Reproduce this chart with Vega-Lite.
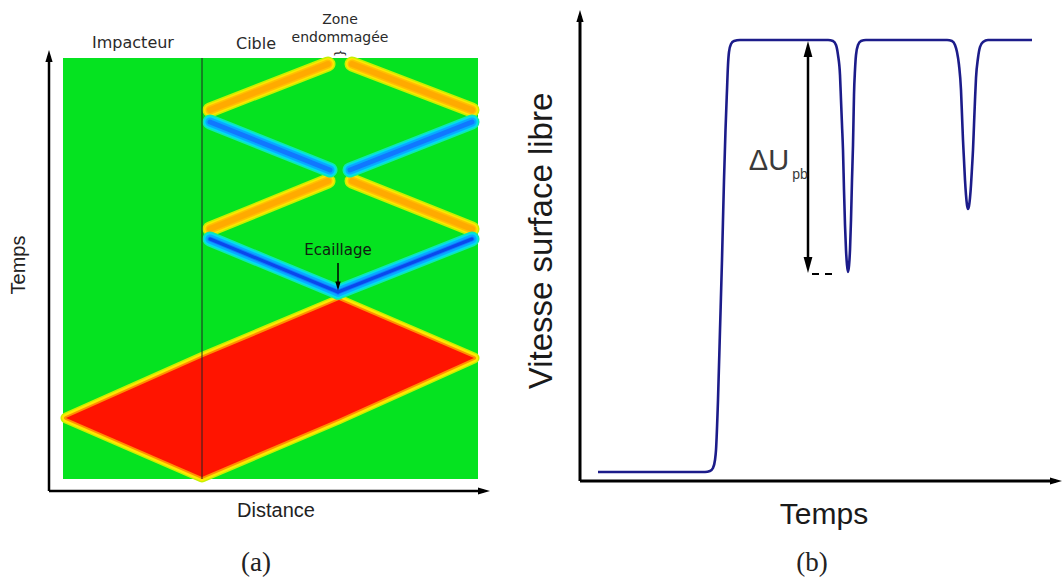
{
  "$schema": "https://vega.github.io/schema/vega-lite/v6.json",
  "padding": 0,
  "spacing": 0,
  "background": "white",
  "config": {"view": {"stroke": null}},
  "datasets": {
    "a_bg": [{"x": 0, "x2": 415, "y": 0, "y2": 421}],
    "a_red": [
      {"x": 3, "y": 61, "y2": 61},
      {"x": 139, "y": 2, "y2": 121.4},
      {"x": 276, "y": 60.3, "y2": 179},
      {"x": 411, "y": 121, "y2": 121}
    ],
    "a_orange": [
      {"x": 147, "y": 369, "x2": 265, "y2": 415},
      {"x": 289, "y": 415, "x2": 409, "y2": 369},
      {"x": 147, "y": 250, "x2": 265, "y2": 298},
      {"x": 289, "y": 298, "x2": 409, "y2": 250}
    ],
    "a_blue": [
      {"x": 147, "y": 357, "x2": 267, "y2": 309},
      {"x": 287, "y": 309, "x2": 409, "y2": 357},
      {"x": 147, "y": 240, "x2": 275, "y2": 187},
      {"x": 275, "y": 187, "x2": 409, "y2": 240}
    ],
    "a_blue_low": [
      {"x": 147, "y": 240, "x2": 275, "y2": 187},
      {"x": 275, "y": 187, "x2": 409, "y2": 240}
    ],
    "a_line": [{"x": 139, "x2": 139, "y": 0, "y2": 421}],
    "a_axes": [
      {"x": -14, "x2": -14, "y": -12, "y2": 423},
      {"x": -14, "x2": 421, "y": -12, "y2": -12}
    ],
    "b_line": [
      {"x": 18, "y": 9}, {"x": 125, "y": 9}, {"x": 130, "y": 10}, {"x": 133, "y": 13},
      {"x": 135, "y": 21}, {"x": 136, "y": 31}, {"x": 138, "y": 81}, {"x": 140, "y": 151},
      {"x": 142, "y": 221}, {"x": 144, "y": 301}, {"x": 145.5, "y": 351}, {"x": 147, "y": 391},
      {"x": 148, "y": 416}, {"x": 149, "y": 429}, {"x": 151, "y": 437}, {"x": 154, "y": 440},
      {"x": 160, "y": 441}, {"x": 248, "y": 441},
      {"x": 253, "y": 440}, {"x": 256, "y": 436}, {"x": 258, "y": 426}, {"x": 260, "y": 406},
      {"x": 261, "y": 381}, {"x": 262, "y": 356}, {"x": 263, "y": 331}, {"x": 264, "y": 291},
      {"x": 265, "y": 256}, {"x": 266, "y": 231}, {"x": 267, "y": 216}, {"x": 268, "y": 209},
      {"x": 269, "y": 215}, {"x": 270, "y": 231}, {"x": 271, "y": 261}, {"x": 272, "y": 301},
      {"x": 273, "y": 336}, {"x": 273.5, "y": 361}, {"x": 274, "y": 386}, {"x": 275, "y": 411},
      {"x": 276, "y": 426}, {"x": 278, "y": 436}, {"x": 281, "y": 440}, {"x": 286, "y": 441},
      {"x": 367, "y": 441},
      {"x": 372, "y": 440}, {"x": 375, "y": 436}, {"x": 377, "y": 429}, {"x": 379, "y": 416},
      {"x": 381, "y": 391}, {"x": 382, "y": 366}, {"x": 383, "y": 341}, {"x": 384, "y": 321},
      {"x": 385, "y": 301}, {"x": 386, "y": 286}, {"x": 387, "y": 276}, {"x": 388, "y": 272},
      {"x": 389, "y": 275}, {"x": 390, "y": 283}, {"x": 391, "y": 296}, {"x": 392, "y": 313},
      {"x": 393, "y": 331}, {"x": 394, "y": 356}, {"x": 395, "y": 381}, {"x": 396, "y": 403},
      {"x": 398, "y": 423}, {"x": 400, "y": 434}, {"x": 403, "y": 439}, {"x": 408, "y": 441},
      {"x": 452, "y": 441}
    ],
    "b_axes": [
      {"x": 0, "x2": 0, "y": 0, "y2": 465},
      {"x": 0, "x2": 476, "y": 0, "y2": 0}
    ]
  },
  "hconcat": [
    {
      "width": 510,
      "height": 580,
      "encoding": {
        "x": {"field": "x", "type": "quantitative", "scale": {"domain": [-63, 447], "nice": false, "zero": false}, "axis": null},
        "y": {"field": "y", "type": "quantitative", "scale": {"domain": [-101, 479], "nice": false, "zero": false}, "axis": null}
      },
      "layer": [
        {"data": {"name": "a_bg"}, "mark": {"type": "rect", "fill": "#05e320"}, "encoding": {"x2": {"field": "x2"}, "y2": {"field": "y2"}}},
        {"data": {"name": "a_red"}, "mark": {"type": "area", "fill": "#ff1400", "stroke": "#c8f000", "strokeWidth": 11, "strokeJoin": "round"}, "encoding": {"y2": {"field": "y2"}}},
        {"data": {"name": "a_red"}, "mark": {"type": "area", "fill": "#ff1400", "stroke": "#ffe800", "strokeWidth": 8, "strokeJoin": "round"}, "encoding": {"y2": {"field": "y2"}}},
        {"data": {"name": "a_red"}, "mark": {"type": "area", "fill": "#ff1400", "stroke": "#ff9000", "strokeWidth": 4, "strokeJoin": "round"}, "encoding": {"y2": {"field": "y2"}}},
        {"data": {"name": "a_red"}, "mark": {"type": "area", "fill": "#ff1400", "strokeWidth": 0}, "encoding": {"y2": {"field": "y2"}}},
        {"data": {"name": "a_orange"}, "mark": {"type": "rule", "color": "#c8f000", "strokeWidth": 15, "strokeCap": "round"}, "encoding": {"x2": {"field": "x2"}, "y2": {"field": "y2"}}},
        {"data": {"name": "a_orange"}, "mark": {"type": "rule", "color": "#ffe600", "strokeWidth": 12, "strokeCap": "round"}, "encoding": {"x2": {"field": "x2"}, "y2": {"field": "y2"}}},
        {"data": {"name": "a_orange"}, "mark": {"type": "rule", "color": "#ffc000", "strokeWidth": 9, "strokeCap": "round"}, "encoding": {"x2": {"field": "x2"}, "y2": {"field": "y2"}}},
        {"data": {"name": "a_orange"}, "mark": {"type": "rule", "color": "#ffaa00", "strokeWidth": 6, "strokeCap": "round"}, "encoding": {"x2": {"field": "x2"}, "y2": {"field": "y2"}}},
        {"data": {"name": "a_blue"}, "mark": {"type": "rule", "color": "#10e8b0", "strokeWidth": 15, "strokeCap": "round"}, "encoding": {"x2": {"field": "x2"}, "y2": {"field": "y2"}}},
        {"data": {"name": "a_blue"}, "mark": {"type": "rule", "color": "#00dcf4", "strokeWidth": 12, "strokeCap": "round"}, "encoding": {"x2": {"field": "x2"}, "y2": {"field": "y2"}}},
        {"data": {"name": "a_blue"}, "mark": {"type": "rule", "color": "#08aaff", "strokeWidth": 9, "strokeCap": "round"}, "encoding": {"x2": {"field": "x2"}, "y2": {"field": "y2"}}},
        {"data": {"name": "a_blue"}, "mark": {"type": "rule", "color": "#1078ff", "strokeWidth": 5, "strokeCap": "round"}, "encoding": {"x2": {"field": "x2"}, "y2": {"field": "y2"}}},
        {"data": {"name": "a_blue_low"}, "mark": {"type": "rule", "color": "#0a48ec", "strokeWidth": 3, "strokeCap": "round"}, "encoding": {"x2": {"field": "x2"}, "y2": {"field": "y2"}}},
        {"data": {"name": "a_line"}, "mark": {"type": "rule", "color": "#222222", "strokeWidth": 1}, "encoding": {"x2": {"field": "x2"}, "y2": {"field": "y2"}}},
        {"data": {"name": "a_axes"}, "mark": {"type": "rule", "color": "black", "strokeWidth": 2.5}, "encoding": {"x2": {"field": "x2"}, "y2": {"field": "y2"}}},
        {"data": {"values": [{"x": -14, "y": 423}]}, "mark": {"type": "point", "shape": "M0,-1L0.6,1L-0.6,1Z", "filled": true, "color": "black", "opacity": 1, "size": 144}},
        {"data": {"values": [{"x": 421, "y": -12}]}, "mark": {"type": "point", "shape": "M1,0L-1,-0.6L-1,0.6Z", "filled": true, "color": "black", "opacity": 1, "size": 144}},
        {"data": {"values": [{"x": 275, "x2": 275, "y": 216, "y2": 195}]}, "mark": {"type": "rule", "color": "black", "strokeWidth": 1.5}, "encoding": {"x2": {"field": "x2"}, "y2": {"field": "y2"}}},
        {"data": {"values": [{"x": 275, "y": 193}]}, "mark": {"type": "point", "shape": "M0,1L0.6,-1L-0.6,-1Z", "filled": true, "color": "black", "opacity": 1, "size": 80}},
        {"data": {"values": [{"x": 70, "y": 436, "label": "Impacteur"}, {"x": 193, "y": 435, "label": "Cible"}]}, "mark": {"type": "text", "font": "DejaVu Sans", "fontSize": 16, "color": "#2a2a2a", "align": "center", "baseline": "middle"}, "encoding": {"text": {"field": "label"}}},
        {"data": {"values": [{"x": 277, "y": 459, "label": "Zone"}, {"x": 277, "y": 441, "label": "endommagée"}]}, "mark": {"type": "text", "font": "DejaVu Sans", "fontSize": 14, "color": "#2a2a2a", "align": "center", "baseline": "middle"}, "encoding": {"text": {"field": "label"}}},
        {"data": {"values": [{"x": 277, "y": 426, "label": "{"}]}, "mark": {"type": "text", "font": "DejaVu Sans", "fontSize": 12, "color": "#2a2a2a", "align": "center", "baseline": "middle", "angle": 90}, "encoding": {"text": {"field": "label"}}},
        {"data": {"values": [{"x": 275, "y": 229, "label": "Ecaillage"}]}, "mark": {"type": "text", "font": "DejaVu Sans", "fontSize": 15, "color": "#102010", "align": "center", "baseline": "middle"}, "encoding": {"text": {"field": "label"}}},
        {"data": {"values": [{"x": -38, "y": 214, "label": "Temps"}]}, "mark": {"type": "text", "font": "Liberation Sans", "fontSize": 20, "color": "#222222", "align": "center", "baseline": "alphabetic", "angle": 270}, "encoding": {"text": {"field": "label"}}},
        {"data": {"values": [{"x": 213, "y": -38, "label": "Distance"}]}, "mark": {"type": "text", "font": "Liberation Sans", "fontSize": 20, "color": "#222222", "align": "center", "baseline": "alphabetic"}, "encoding": {"text": {"field": "label"}}},
        {"data": {"values": [{"x": 193, "y": -84, "label": "(a)"}]}, "mark": {"type": "text", "font": "Liberation Serif", "fontSize": 27, "color": "#222222", "align": "center", "baseline": "middle"}, "encoding": {"text": {"field": "label"}}}
      ]
    },
    {
      "width": 554,
      "height": 580,
      "encoding": {
        "x": {"field": "x", "type": "quantitative", "scale": {"domain": [-70, 484], "nice": false, "zero": false}, "axis": null},
        "y": {"field": "y", "type": "quantitative", "scale": {"domain": [-99, 481], "nice": false, "zero": false}, "axis": null}
      },
      "layer": [
        {"data": {"name": "b_axes"}, "mark": {"type": "rule", "color": "black", "strokeWidth": 3}, "encoding": {"x2": {"field": "x2"}, "y2": {"field": "y2"}}},
        {"data": {"values": [{"x": 0, "y": 465}]}, "mark": {"type": "point", "shape": "M0,-1L0.6,1L-0.6,1Z", "filled": true, "color": "black", "opacity": 1, "size": 144}},
        {"data": {"values": [{"x": 476, "y": 0}]}, "mark": {"type": "point", "shape": "M1,0L-1,-0.6L-1,0.6Z", "filled": true, "color": "black", "opacity": 1, "size": 144}},
        {"data": {"name": "b_line"}, "mark": {"type": "line", "interpolate": "monotone", "color": "#1c1c8a", "strokeWidth": 2.6}},
        {"data": {"values": [{"x": 228, "x2": 228, "y": 216, "y2": 432}]}, "mark": {"type": "rule", "color": "black", "strokeWidth": 2.5}, "encoding": {"x2": {"field": "x2"}, "y2": {"field": "y2"}}},
        {"data": {"values": [{"x": 228, "y": 432}]}, "mark": {"type": "point", "shape": "M0,-1L0.55,1L-0.55,1Z", "filled": true, "color": "black", "opacity": 1, "size": 256}},
        {"data": {"values": [{"x": 228, "y": 216}]}, "mark": {"type": "point", "shape": "M0,1L0.55,-1L-0.55,-1Z", "filled": true, "color": "black", "opacity": 1, "size": 256}},
        {"data": {"values": [{"x": 232, "x2": 258, "y": 207, "y2": 207}]}, "mark": {"type": "rule", "color": "black", "strokeWidth": 2, "strokeDash": [7, 6]}, "encoding": {"x2": {"field": "x2"}, "y2": {"field": "y2"}}},
        {"data": {"values": [{"x": 189, "y": 320, "label": "ΔU"}]}, "mark": {"type": "text", "font": "Liberation Sans", "fontSize": 29, "color": "#3a3a3a", "align": "center", "baseline": "middle"}, "encoding": {"text": {"field": "label"}}},
        {"data": {"values": [{"x": 220, "y": 306, "label": "pb"}]}, "mark": {"type": "text", "font": "Liberation Sans", "fontSize": 14, "color": "#3a3a3a", "align": "center", "baseline": "middle"}, "encoding": {"text": {"field": "label"}}},
        {"data": {"values": [{"x": -28, "y": 240, "label": "Vitesse surface libre"}]}, "mark": {"type": "text", "font": "Liberation Sans", "fontSize": 33, "color": "#1a1a1a", "align": "center", "baseline": "alphabetic", "angle": 270}, "encoding": {"text": {"field": "label"}}},
        {"data": {"values": [{"x": 244, "y": -43, "label": "Temps"}]}, "mark": {"type": "text", "font": "Liberation Sans", "fontSize": 30, "color": "#1a1a1a", "align": "center", "baseline": "alphabetic"}, "encoding": {"text": {"field": "label"}}},
        {"data": {"values": [{"x": 232, "y": -82, "label": "(b)"}]}, "mark": {"type": "text", "font": "Liberation Serif", "fontSize": 27, "color": "#222222", "align": "center", "baseline": "middle"}, "encoding": {"text": {"field": "label"}}}
      ]
    }
  ]
}
